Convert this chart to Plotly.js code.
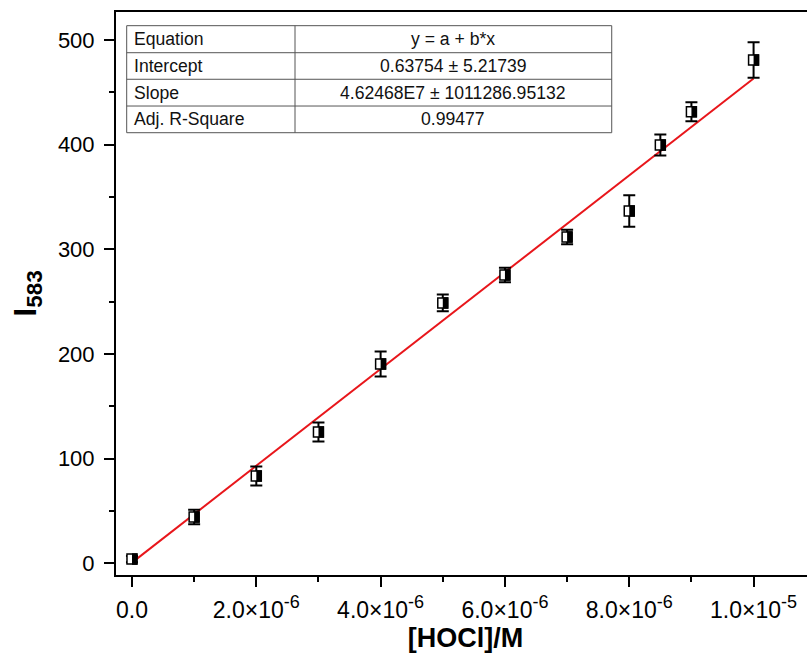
<!DOCTYPE html>
<html>
<head>
<meta charset="utf-8">
<script src="https://cdn.plot.ly/plotly-3.0.1.min.js"></script>
<style>
html, body { margin: 0; padding: 0; overflow: hidden; background: #fff; }
#chart { width: 820px; height: 653px; }
</style>
</head>
<body>
<div id="chart"></div>
<script>
// Data
var concX = [0, 1e-6, 2e-6, 3e-6, 4e-6, 5e-6, 6e-6, 7e-6, 8e-6, 8.5e-6, 9e-6, 1e-5];
var intensity = [4, 44.2, 83.4, 125.4, 190.4, 248.7, 275.4, 311.7, 336.6, 399.6, 431.4, 480.8];
var intensityErr = [3, 7, 9, 9, 12, 8, 7, 7, 15, 10, 9, 17];

// Linear fit line endpoints (y = a + b*x at x = 0 and 1e-5)
var fitX = [0, 1e-5];
var fitY = [0.64, 463.1];

// Fit table
var tableLabels = ['Equation', 'Intercept', 'Slope', 'Adj. R-Square'];
var tableValues = ['y = a + b*x', '0.63754 ± 5.21739', '4.62468E7 ± 1011286.95132', '0.99477'];

// Axis ticks
var xTickVals = [0, 2e-6, 4e-6, 6e-6, 8e-6, 1e-5];
var xTickMant = ['0.0', '2.0', '4.0', '6.0', '8.0', '1.0'];
var xTickExp = ['', '-6', '-6', '-6', '-6', '-5'];
var xMinorVals = [1e-6, 3e-6, 5e-6, 7e-6, 9e-6];

var FONT = 'Liberation Sans, Arial, Helvetica, sans-serif';

var xTickText = xTickMant.map(function (m, i) {
  return xTickExp[i] ? m + '×10<sup><span style="font-size:18px">' + xTickExp[i] + '</span></sup>' : m;
});

var traces = [
  {
    x: fitX, y: fitY, type: 'scatter', mode: 'lines',
    line: { color: '#e8161b', width: 2 },
    hoverinfo: 'skip', showlegend: false
  },
  {
    x: concX, y: intensity, type: 'scatter', mode: 'markers',
    marker: { symbol: 'square', size: 10, color: '#ffffff', line: { color: '#000', width: 1.5 } },
    error_y: { type: 'data', array: intensityErr, visible: true, color: '#000', thickness: 2, width: 6 },
    showlegend: false
  }
];

var shapes = [];
// filled right half of each marker
for (var i = 0; i < concX.length; i++) {
  shapes.push({
    type: 'rect', xref: 'x', yref: 'y',
    xsizemode: 'pixel', ysizemode: 'pixel',
    xanchor: concX[i], yanchor: intensity[i],
    x0: 0, x1: 5.5, y0: -5.75, y1: 5.75,
    fillcolor: '#000', line: { width: 0 }, layer: 'above'
  });
}

// table geometry (paper coords)
var tx0 = 0.0153, txd = 0.2561, tx1 = 0.7092;
var rowY = [0.9757, 0.9277, 0.8805, 0.8330, 0.7856];
var tableLine = { color: '#555', width: 1 };
shapes.push({ type: 'rect', xref: 'paper', yref: 'paper', x0: tx0, x1: tx1, y0: rowY[4], y1: rowY[0], line: tableLine, fillcolor: 'rgba(255,255,255,1)', layer: 'above' });
for (var r = 1; r < 4; r++) {
  shapes.push({ type: 'line', xref: 'paper', yref: 'paper', x0: tx0, x1: tx1, y0: rowY[r], y1: rowY[r], line: tableLine, layer: 'above' });
}
shapes.push({ type: 'line', xref: 'paper', yref: 'paper', x0: txd, x1: txd, y0: rowY[4], y1: rowY[0], line: tableLine, layer: 'above' });

var annotations = [];
for (var k = 0; k < tableLabels.length; k++) {
  var yc = (rowY[k] + rowY[k + 1]) / 2;
  annotations.push({
    xref: 'paper', yref: 'paper', x: 0.0229, y: yc, xanchor: 'left', yanchor: 'middle',
    text: tableLabels[k], showarrow: false, font: { family: FONT, size: 17.6, color: '#111' }
  });
  annotations.push({
    xref: 'paper', yref: 'paper', x: (txd + tx1) / 2, y: yc, xanchor: 'center', yanchor: 'middle',
    text: tableValues[k], showarrow: false, font: { family: FONT, size: 17.6, color: '#111' }
  });
}

var layout = {
  width: 820, height: 653,
  margin: { l: 116, r: 5, t: 12, b: 78 },
  paper_bgcolor: '#fff', plot_bgcolor: '#fff',
  font: { family: FONT, color: '#000' },
  showlegend: false,
  xaxis: {
    range: [-0.257e-6, 10.988e-6],
    tickmode: 'array', tickvals: xTickVals, ticktext: xTickText,
    ticks: 'outside', ticklen: 10, tickwidth: 2, tickcolor: '#000',
    ticklabelstandoff: 3,
    minor: { tickmode: 'array', tickvals: xMinorVals, ticks: 'outside', ticklen: 5, tickwidth: 2, tickcolor: '#000' },
    showline: true, linewidth: 2, linecolor: '#000', mirror: true,
    showgrid: false, zeroline: false,
    tickangle: 0,
    tickfont: { family: FONT, size: 23, color: '#000' },
    title: { text: '<b>[HOCl]/M</b>', font: { family: FONT, size: 27, color: '#000' }, standoff: 2 }
  },
  yaxis: {
    range: [-11.2, 526.7],
    tickmode: 'linear', tick0: 0, dtick: 100,
    ticks: 'outside', ticklen: 10, tickwidth: 2, tickcolor: '#000',
    ticklabelstandoff: 5,
    minor: { tickmode: 'linear', tick0: 0, dtick: 50, ticks: 'outside', ticklen: 5, tickwidth: 2, tickcolor: '#000' },
    showline: true, linewidth: 2, linecolor: '#000', mirror: true,
    showgrid: false, zeroline: false,
    tickfont: { family: FONT, size: 22, color: '#000' },
    title: { text: '<b>I<sub>583</sub></b>', font: { family: FONT, size: 32, color: '#000' }, standoff: 12 }
  },
  shapes: shapes,
  annotations: annotations
};

Plotly.newPlot('chart', traces, layout, { displayModeBar: false, staticPlot: true });
</script>
</body>
</html>
